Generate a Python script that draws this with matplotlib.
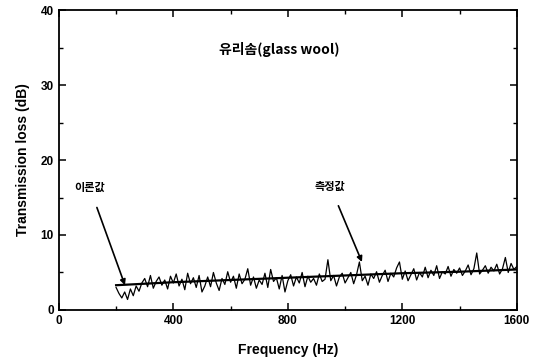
import numpy as np
import matplotlib.pyplot as plt
from matplotlib.ticker import MultipleLocator

# ---- data ----
freq = np.arange(200, 1601, 10)   # Hz

measured = [
    3.0, 2.2, 1.6, 2.4, 1.4, 2.8, 1.9, 3.2, 2.5, 3.6,
    4.2, 3.1, 4.6, 2.9, 3.8, 4.4, 3.3, 4.0, 2.8, 4.5,
    3.6, 4.8, 3.2, 4.1, 2.7, 4.9, 3.5, 4.3, 3.0, 4.6,
    2.4, 3.2, 4.4, 3.1, 5.0, 3.6, 2.6, 4.2, 3.4, 5.1,
    3.7, 4.5, 2.9, 4.8, 3.5, 4.1, 5.5, 3.3, 4.4, 2.9,
    4.0, 3.4, 4.9, 3.0, 5.4, 3.8, 4.3, 2.8, 4.6, 2.4,
    3.9, 4.7, 3.2, 4.4, 3.6, 5.0, 3.1, 4.5, 3.7, 4.2,
    3.3, 4.8, 3.8, 4.1, 6.7, 3.9, 4.6, 3.2, 4.4, 4.9,
    3.6, 4.3, 5.0, 3.5, 4.7, 6.4, 3.9, 4.5, 3.3, 4.8,
    4.2, 5.1, 3.7, 4.6, 5.3, 3.8, 4.9, 4.4, 5.6, 6.4,
    4.1, 5.2, 3.9, 4.7, 5.5, 4.0, 5.0, 4.4, 5.7, 4.3,
    5.3, 4.6, 5.9, 4.2, 5.1, 4.8, 5.8, 4.5, 5.4, 4.9,
    5.6, 4.6, 5.2, 6.0, 4.7, 5.5, 7.6, 4.8, 5.3, 5.9,
    4.9, 5.7, 5.2, 6.1, 4.8, 5.5, 7.0, 5.0, 6.2, 5.4,
    5.8,
]

theory_freq = [200, 400, 600, 800, 1000, 1200, 1400, 1600]
theory_tl = [3.3, 3.7, 4.0, 4.3, 4.6, 4.9, 5.1, 5.4]

x_ticks = [0, 400, 800, 1200, 1600]
y_ticks = [0, 10, 20, 30, 40]

# ---- figure ----
fig = plt.figure(figsize=(5.35, 3.6), dpi=100)
ax = fig.add_axes([0.110, 0.139, 0.856, 0.833])

ax.plot(freq, measured, color="black", lw=0.9)
ax.plot(theory_freq, theory_tl, color="black", lw=1.6)

ax.set_xlim(0, 1600)
ax.set_ylim(0, 40)
ax.set_xticks(x_ticks)
ax.set_yticks(y_ticks)
ax.xaxis.set_minor_locator(MultipleLocator(200))
ax.yaxis.set_minor_locator(MultipleLocator(5))
ax.tick_params(which="both", direction="in", top=True, right=True)
ax.tick_params(which="major", length=5, width=1.1)
ax.tick_params(which="minor", length=3, width=1.0)
for lab in ax.get_xticklabels() + ax.get_yticklabels():
    lab.set_fontweight("bold")
    lab.set_fontsize(8.5)
    lab.set_family("Liberation Sans")
for sp in ax.spines.values():
    sp.set_linewidth(1.3)

ax.set_xlabel("Frequency (Hz)", fontsize=10, fontweight="bold",
              family="Liberation Sans", labelpad=12)
ax.set_ylabel("Transmission loss (dB)", fontsize=10, fontweight="bold",
              family="Liberation Sans", labelpad=8)

kfont = ["Noto Sans CJK KR", "DejaVu Sans"]
ax.text(770, 34.7, "유리솜(glass wool)", ha="center", va="center",
        fontsize=10, fontweight="bold", family=kfont)

ax.annotate("이론값", xy=(231, 3.3), xytext=(108, 16.3), ha="center", va="center",
            fontsize=8, fontweight="bold", family=kfont,
            arrowprops=dict(arrowstyle="-|>", color="black", lw=1.2,
                            shrinkA=8, shrinkB=0, mutation_scale=8))
ax.annotate("측정값", xy=(1059, 6.4), xytext=(948, 16.5), ha="center", va="center",
            fontsize=8, fontweight="bold", family=kfont,
            arrowprops=dict(arrowstyle="-|>", color="black", lw=1.2,
                            shrinkA=8, shrinkB=0, mutation_scale=8))

fig.savefig("out.png", dpi=100)
